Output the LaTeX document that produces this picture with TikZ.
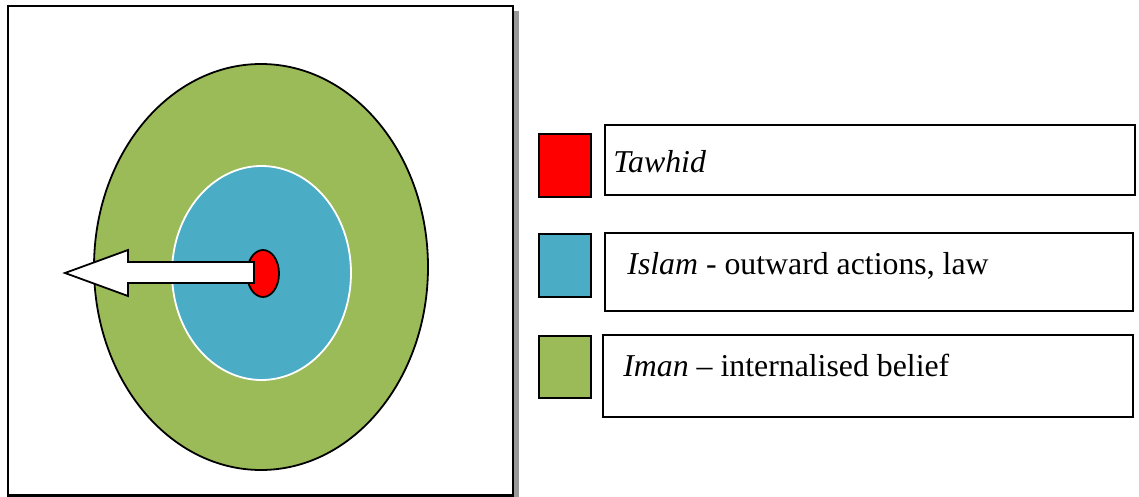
\documentclass[tikz,border=0pt]{standalone}
\usepackage{fontspec}
\setmainfont{Liberation Serif}
\definecolor{tawhidred}{HTML}{FF0000}
\definecolor{islamblue}{HTML}{4BACC6}
\definecolor{imangreen}{HTML}{9BBB59}
\begin{document}
\begin{tikzpicture}[x=0.5pt,y=-0.5pt,
    legend text/.style={anchor=base west,inner sep=0pt,font=\fontsize{15.9}{19}\selectfont},
    swatch/.style={draw=black,line width=0.9pt},
    label box/.style={draw=black,line width=1.1pt,fill=white}]
    \useasboundingbox (0,0) rectangle (1139,497);
    \fill [black!40] (14,11) rectangle (519,505);
    \draw [black,line width=1.2pt,fill=white] (8,6) rectangle (513,495.5);
    \draw [black,line width=0.9pt,fill=imangreen] (261,267) ellipse (167 and 203);
    \draw [white,line width=0.9pt,fill=islamblue] (261.5,273) ellipse (89.5 and 107);
    \draw [black,line width=0.9pt,fill=tawhidred] (263,273.5) ellipse (16 and 23.5);
    \draw [black,line width=0.9pt,fill=white] (254,262) -- (128,262) -- (128,250) -- (65,273) -- (128,296) -- (128,283) -- (254,283) -- cycle;
    \draw [swatch,fill=tawhidred] (539,134) rectangle (591,197);
    \draw [swatch,fill=islamblue] (539,234) rectangle (591,297);
    \draw [swatch,fill=imangreen] (539,336) rectangle (591,398);
    \draw [label box] (605,125) rectangle (1135,195);
    \draw [label box] (605,233) rectangle (1133,311);
    \draw [label box] (603,335) rectangle (1133,417);
    \node [legend text] (tawhid) at (613,173) {\textit{Tawhid}};
    \node [legend text] (islam) at (627,274) {\textit{Islam} - outward actions, law};
    \node [legend text] (iman) at (623,376) {\textit{Iman} -- internalised belief};
\end{tikzpicture}
\end{document}
